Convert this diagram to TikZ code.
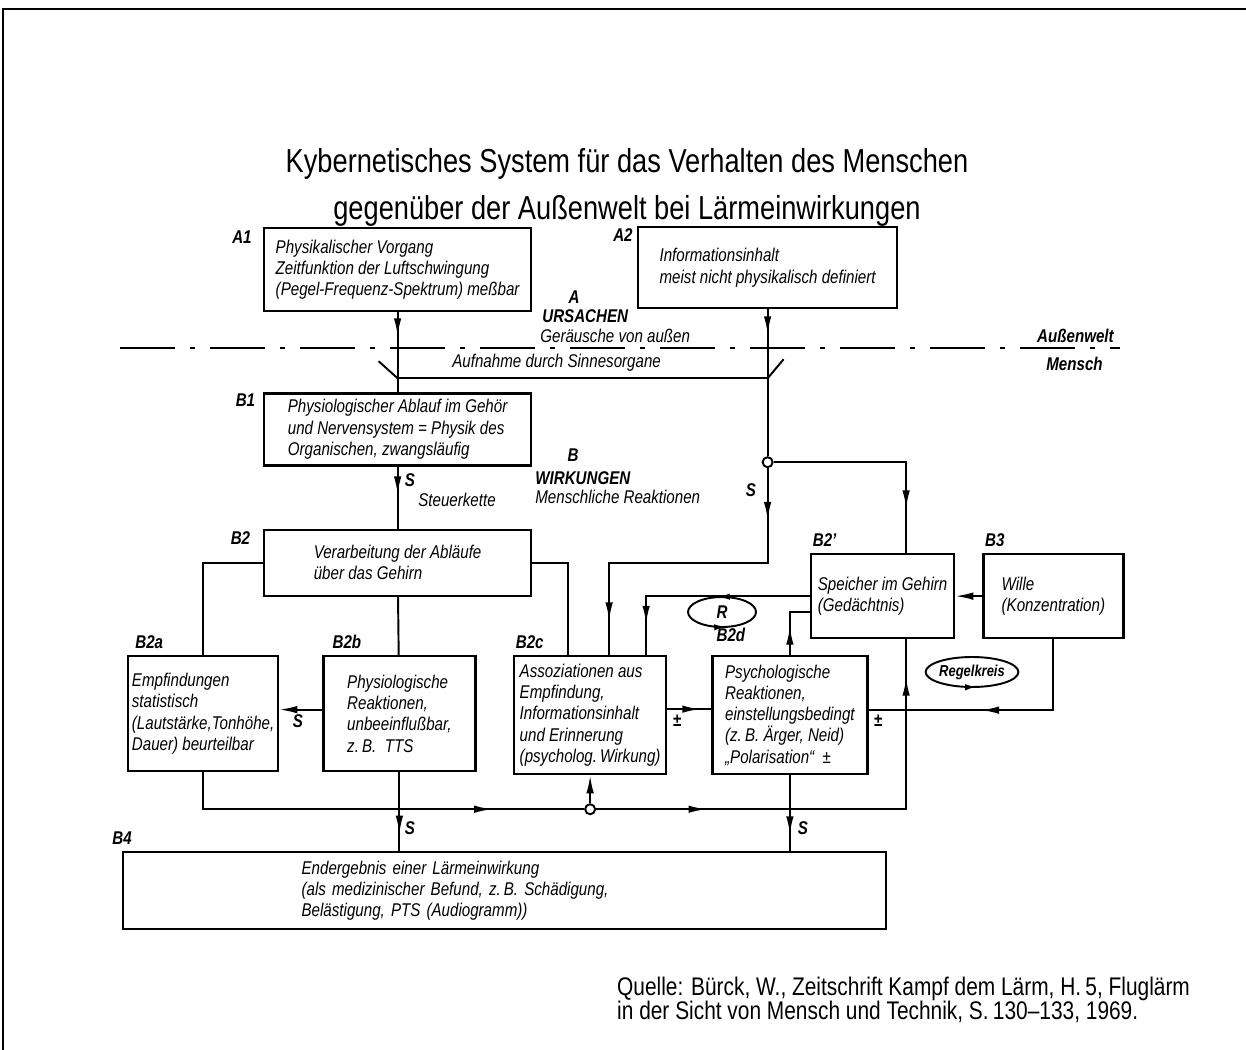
\documentclass[tikz,border=0pt]{standalone}
\usepackage{fontspec}
\setmainfont{Liberation Sans}[FakeStretch=0.82]
\usetikzlibrary{arrows.meta, positioning, shapes.geometric, decorations.markings}

\begin{document}
\begin{tikzpicture}[
    x=0.02cm, y=-0.02cm,
    kasten/.style={rectangle, draw, line width=1.3pt, align=left, inner xsep=2pt, inner ysep=0pt,
                   font=\itshape\fontsize{10.5}{12.1}\selectfont},
    marke/.style={inner sep=0pt, font=\bfseries\itshape\fontsize{10.5}{12}\selectfont},
    notiz/.style={inner sep=0pt, font=\itshape\fontsize{10.5}{12}\selectfont},
    linie/.style={line width=1.1pt},
    spitze/.style={-{Latex[length=3.6mm, width=1.5mm]}},
    pfeil/.style={postaction={decorate, decoration={markings,
                  mark=at position #1 with {\arrow{Latex[length=3.6mm, width=1.5mm]}}}}},
    kreispfeil/.style={postaction={decorate, decoration={markings,
                  mark=at position #1 with {\arrow{Latex[length=2.2mm, width=1.3mm]}}}}},
    knoten/.style={circle, draw, fill=white, line width=1.1pt,
                   minimum size=0.2cm, inner sep=0pt},
    ring/.style={ellipse, draw, line width=1.1pt, inner sep=0pt,
                 minimum width=1.36cm, minimum height=0.6cm},
  ]
    \useasboundingbox (0,0) rectangle (1246,1050);
    \draw[line width=1.6pt] (3,1050) -- (3,9) -- (1246,9);

    \node[align=center, font=\fontsize{18.9}{26.8}\selectfont] (titel) at (627,187)
      {Kybernetisches System für das Verhalten des Menschen\\
       gegenüber der Außenwelt bei Lärmeinwirkungen};

    % Ursachen
    \node[kasten, anchor=north west, minimum width=5.34cm, minimum height=1.66cm]
      (a1) at (263,227) {Physikalischer Vorgang\\Zeitfunktion der Luftschwingung\\
                         (Pegel-Frequenz-Spektrum) meßbar};
    \node[kasten, anchor=north west, minimum width=5.18cm, minimum height=1.62cm]
      (a2) at (637,226) {Informationsinhalt\\meist nicht physikalisch definiert};

    % Wirkungen
    \node[kasten, below=1.6cm of a1, minimum width=5.34cm, minimum height=1.44cm]
      (b1) {Physiologischer Ablauf im Gehör\\und Nervensystem = Physik des\\
            Organischen, zwangsläufig};
    \node[kasten, below=1.24cm of b1, minimum width=5.34cm, minimum height=1.32cm]
      (b2) {Verarbeitung der Abläufe\\über das Gehirn};
    \node[kasten, anchor=north west, minimum width=3cm, minimum height=2.3cm]
      (b2a) at (127,655) {Empfindungen\\statistisch\\(Lautstärke,Tonhöhe,\\
                          Dauer) beurteilbar};
    \node[kasten, right=0.86cm of b2a, minimum width=3.04cm, minimum height=2.3cm]
      (b2b) {Physiologische\\Reaktionen,\\unbeeinflußbar,\\z.\,B. \ TTS};
    \node[kasten, anchor=north west, minimum width=3.04cm, minimum height=2.36cm]
      (b2c) at (513,655) {Assoziationen aus\\Empfindung,\\Informationsinhalt\\
                          und Erinnerung\\(psycholog.\,Wirkung)};
    \node[kasten, right=0.88cm of b2c, minimum width=3.1cm, minimum height=2.36cm]
      (b2d) {Psychologische\\Reaktionen,\\einstellungsbedingt\\
             (z.\,B. Ärger, Neid)\\„Polarisation“ \ ±};
    \node[kasten, anchor=north west, minimum width=2.86cm, minimum height=1.68cm]
      (b2s) at (810,553) {Speicher im Gehirn\\(Gedächtnis)};
    \node[kasten, right=0.54cm of b2s, minimum width=2.8cm, minimum height=1.68cm]
      (b3) {Wille\\(Konzentration)};
    \node[kasten, anchor=north west, text width=15.12cm, minimum height=1.54cm]
      (b4) at (122,851) {\hspace*{3.5cm}Endergebnis einer Lärmeinwirkung\\
                         \hspace*{3.5cm}(als medizinischer Befund, z.\,B. Schädigung,\\
                         \hspace*{3.5cm}Belästigung, PTS (Audiogramm))};

    % Kennzeichen
    \node[marke, anchor=north east] (la1) at ([xshift=-0.22cm, yshift=-0.06cm]a1.north west) {A1};
    \node[marke, anchor=north east] (la2) at ([xshift=-0.08cm, yshift=-0.04cm]a2.north west) {A2};
    \node[marke, anchor=north east] (lb1) at ([xshift=-0.15cm, yshift=-0.02cm]b1.north west) {B1};
    \node[marke, anchor=north east] (lb2) at ([xshift=-0.25cm, yshift=-0.06cm]b2.north west) {B2};
    \node[marke, anchor=south west] (lb2a) at ([xshift=0.16cm, yshift=0.12cm]b2a.north west) {B2a};
    \node[marke, anchor=south west] (lb2b) at ([xshift=0.2cm, yshift=0.12cm]b2b.north west) {B2b};
    \node[marke, anchor=south west] (lb2c) at ([xshift=0.05cm, yshift=0.12cm]b2c.north west) {B2c};
    \node[marke, anchor=south west] (lb2d) at ([xshift=0.1cm, yshift=0.26cm]b2d.north west) {B2d};
    \node[marke, anchor=south west] (lb2s) at ([xshift=0.05cm, yshift=0.12cm]b2s.north west) {B2'};
    \node[marke, anchor=south west] (lb3) at ([xshift=0.05cm, yshift=0.12cm]b3.north west) {B3};
    \node[marke, anchor=south west] (lb4) at ([xshift=-0.2cm, yshift=0.12cm]b4.north west) {B4};

    % Texte
    \node[marke] (ursA) at (574,297) {A};
    \node[marke, anchor=west] (urs) at (542,316) {URSACHEN};
    \node[notiz, anchor=west] (ger) at (540,336) {Geräusche von außen};
    \node[notiz, anchor=west] (auf) at (452,363) {Aufnahme durch Sinnesorgane};
    \node[marke, anchor=east] (welt) at (1114,336) {Außenwelt};
    \node[marke, anchor=west] (mensch) at (1046,364) {Mensch};
    \node[marke] (wirkB) at (573,455) {B};
    \node[marke, anchor=west] (wirk) at (535,478) {WIRKUNGEN};
    \node[notiz, anchor=west] (reakt) at (535,497) {Menschliche Reaktionen};
    \node[marke] (s1) at (410,480) {S};
    \node[notiz, anchor=west] (steuer) at (418,500) {Steuerkette};
    \node[marke] (s2) at (751,490) {S};
    \node[marke] (s3) at (298,721) {S};
    \node[marke] (pm1) at (677,721) {±};
    \node[marke] (pm2) at (878,721) {±};
    \node[marke] (s4) at (410,828) {S};
    \node[marke] (s5) at (803,828) {S};

    \node[align=left, anchor=west, font=\fontsize{14.5}{13.8}\selectfont] (quelle) at (611,1000)
      {Quelle: Bürck, W., Zeitschrift Kampf dem Lärm, H.\,5, Fluglärm\\
       in der Sicht von Mensch und Technik, S.\,130--133, 1969.};

    % Verzweigungen und Regelkreise
    \node[knoten, below=2.94cm of a2] (k1) {};
    \node[knoten, below=0.56cm of b2c] (k2) {};
    \node[ring, marke, kreispfeil=0.27, kreispfeil=0.77] (rk) at (722,612) {R};
    \node[ring, kreispfeil=0.77, font=\bfseries\itshape\fontsize{9}{10}\selectfont]
      (regel) at (972,672) {Regelkreis};

    \coordinate (grenzeL) at (120,348);
    \coordinate (grenzeR) at (1120,348);
    \coordinate (c2l) at ([xshift=-0.45cm]b2c.north);
    \coordinate (c2m) at ([xshift=0.38cm]b2c.north);
    \coordinate (c2r) at ([xshift=1.12cm]b2c.north);
    \coordinate (s2o) at ([xshift=0.47cm]b2s.north);
    \coordinate (s2u) at ([xshift=0.47cm]b2s.south);
    \path (a1.south) ++(0,66) coordinate (sinnL);
    \path (a2.south) ++(0,69) coordinate (sinnR);

    % Aussenwelt / Mensch
    \draw[linie, dash pattern=on 1.1cm off 0.3cm on 0.1cm off 0.3cm] (grenzeL) -- (grenzeR);
    \draw[linie] (sinnL) -- (sinnR);
    \draw[linie] (sinnL) -- ++(-19,-17);
    \draw[linie] (sinnR) -- ++(16,-19);

    % A -> B
    \draw[linie, pfeil=0.3] (a1) -- (b1);
    \draw[linie, pfeil=0.17] (a2) -- (k1);
    \draw[linie, pfeil=0.45] (b1) -- (b2);

    % Steuerkette
    \draw[linie] (b2.west) -| (b2a.north);
    \draw[linie] (b2) -- (b2b);
    \draw[linie] (b2.east) -| (c2l);
    \draw[linie, spitze] ([yshift=0.08cm]b2b.west) -- ([yshift=0.08cm]b2a.east);
    \draw[linie, pfeil=0.15, pfeil=0.9] (k1) |- (c2m |- b2.east) -- (c2m);
    \draw[linie, pfeil=0.8] (k1) -| (s2o);

    % Regelkreise
    \draw[linie, pfeil=0.86] (b2s.west) -| (c2r);
    \draw[linie, pfeil=0.75] ([yshift=0.12cm]b2c.east) -- ([yshift=0.12cm]b2d.west);
    \draw[linie, pfeil=0.45] (b2d.north) |- ([yshift=-0.32cm]b2s.west);
    \draw[linie, spitze] (b3) -- (b2s);
    \draw[linie, pfeil=0.56] (b3.south) |- ([yshift=0.1cm]b2d.east);

    % Sammelleitung unten
    \draw[linie, pfeil=0.78] (b2a.south) |- (k2);
    \draw[linie, spitze] (k2) -- (b2c);
    \draw[linie, pfeil=0.23, pfeil=0.92] (k2) -| (s2u);
    \draw[linie, pfeil=0.78] (b2b) -- (b2b |- b4.north);
    \draw[linie, pfeil=0.78] (b2d) -- (b2d |- b4.north);
\end{tikzpicture}
\end{document}
